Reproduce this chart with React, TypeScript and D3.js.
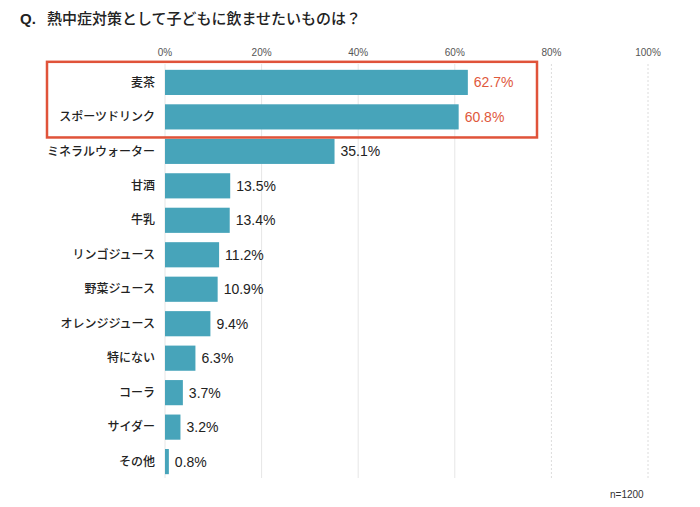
import React from "react";
import * as d3 from "d3";

const categories = [
  "麦茶",
  "スポーツドリンク",
  "ミネラルウォーター",
  "甘酒",
  "牛乳",
  "リンゴジュース",
  "野菜ジュース",
  "オレンジジュース",
  "特にない",
  "コーラ",
  "サイダー",
  "その他",
];
const values = [62.7, 60.8, 35.1, 13.5, 13.4, 11.2, 10.9, 9.4, 6.3, 3.7, 3.2, 0.8];
const highlighted = ["麦茶", "スポーツドリンク"];
const tickValues = [0, 20, 40, 60, 80, 100];

const W = 700;
const H = 507;
const font = "'Noto Sans CJK JP', 'Noto Sans', sans-serif";
const numFont = "'Liberation Sans', Arial, sans-serif";

export default function App() {
  const x = d3.scaleLinear().domain([0, 100]).range([165, 648]);
  const y = d3.scaleBand<string>().domain(categories).range([65, 479]).paddingInner(0.27).paddingOuter(0.14);

  const boxTop = (y(highlighted[0]) ?? 0) - 8;
  const boxBottom = (y(highlighted[1]) ?? 0) + y.bandwidth() + 8;

  return (
    <svg width={W} height={H} style={{ position: "absolute", left: 0, top: 0, background: "#fff" }}>
      <text x={20} y={24} fontFamily={numFont} fontSize={15} fontWeight={700} fill="#222">
        Q.
      </text>
      <text x={47} y={24} fontFamily={font} fontSize={15} fontWeight={500} fill="#222">
        熱中症対策として子どもに飲ませたいものは？
      </text>

      {/* grid + ticks */}
      {tickValues.map((t) => (
        <g key={t}>
          <line
            x1={x(t)}
            x2={x(t)}
            y1={64}
            y2={478}
            stroke={t >= 80 ? "#dcdcdc" : "#e6e6e6"}
            strokeDasharray={t >= 80 ? "2,2" : undefined}
          />
          <text x={x(t)} y={56} textAnchor="middle" fontFamily={numFont} fontSize={10} fill="#555">
            {t}%
          </text>
        </g>
      ))}

      {categories.map((c, i) => {
        const yy = y(c) ?? 0;
        const cy = yy + y.bandwidth() / 2;
        const hi = highlighted.includes(c);
        return (
          <g key={c}>
            <rect x={x(0)} y={yy} width={x(values[i]) - x(0)} height={y.bandwidth()} fill="#47a4ba" />
            <text x={155} y={cy} dy="0.35em" textAnchor="end" fontFamily={font} fontSize={12} fontWeight={500} fill="#222">
              {c}
            </text>
            <text
              x={x(values[i]) + 6}
              y={cy}
              dy="0.36em"
              fontFamily={numFont}
              fontSize={14}
              fill={hi ? "#e0583c" : "#222"}
            >
              {values[i].toFixed(1)}%
            </text>
          </g>
        );
      })}

      <rect x={47} y={boxTop} width={490} height={boxBottom - boxTop} fill="none" stroke="#e0533a" strokeWidth={2.5} />

      <text x={610} y={498} fontFamily={numFont} fontSize={10} fill="#333">
        n=1200
      </text>
    </svg>
  );
}
